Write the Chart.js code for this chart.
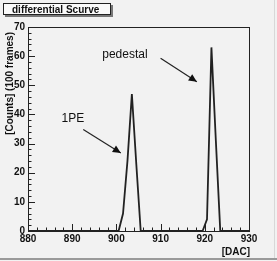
<!DOCTYPE html>
<html>
<head>
<meta charset="utf-8">
<script src="https://cdn.jsdelivr.net/npm/chart.js@4"></script>
<style>
  html, body { margin: 0; padding: 0; background: #f2f2f2; }
  #wrap { width: 277px; height: 261px; position: relative; }
</style>
</head>
<body>
<div id="wrap"><canvas id="scurve" width="277" height="261"></canvas></div>
<script>
// DAC values (bin centres) and counts
const dac    = [880, 900.5, 901.5, 902.5, 903.5, 904.5, 905.5, 919.5, 920.5, 921.5, 922.5, 923.5, 930];
const counts = [0,   0,     6,     24,    47,    23,    0,     0,     4,     63,    31,    0,     0];

const xTicks = [880, 890, 900, 910, 920, 930];
const yTicks = [0, 10, 20, 30, 40, 50, 60, 70];

// annotation labels, placed in data units
const notes = [
  { text: '1PE',      at: [887.6, 37.5], from: [892.5, 34.8], to: [901.0, 26.8] },
  { text: 'pedestal', at: [896.8, 59.5], from: [910.0, 59.3], to: [918.2, 51.2] }
];

const points = dac.map((d, i) => ({ x: d, y: counts[i] }));

const rootDeco = {
  id: 'rootDeco',
  afterDraw(chart) {
    const ctx = chart.ctx;
    const xs = chart.scales.x, ys = chart.scales.y;
    const a = chart.chartArea;
    ctx.save();

    // frame
    ctx.strokeStyle = '#222';
    ctx.lineWidth = 1;
    ctx.strokeRect(Math.round(a.left) + 0.5, Math.round(a.top) + 0.5,
                   Math.round(a.right - a.left), Math.round(a.bottom - a.top));

    // ticks pointing inwards
    ctx.beginPath();
    for (let v = 880; v <= 930; v += 2) {
      const px = Math.round(xs.getPixelForValue(v)) + 0.5;
      const len = (v % 10 === 0) ? 7 : 3.5;
      ctx.moveTo(px, a.bottom);
      ctx.lineTo(px, a.bottom - len);
    }
    for (let v = 0; v <= 70; v += 2) {
      const py = Math.round(ys.getPixelForValue(v)) + 0.5;
      const len = (v % 10 === 0) ? 7 : 3.5;
      ctx.moveTo(a.left, py);
      ctx.lineTo(a.left + len, py);
    }
    ctx.stroke();

    // axis titles
    ctx.fillStyle = '#111';
    ctx.font = 'bold 10px "Liberation Sans", Arial, sans-serif';
    ctx.textAlign = 'right';
    ctx.textBaseline = 'alphabetic';
    ctx.fillText('[DAC]', a.right + 1, 255);
    ctx.save();
    ctx.translate(13, a.top + 5);
    ctx.rotate(-Math.PI / 2);
    ctx.textAlign = 'right';
    ctx.fillText('[Counts] (100 frames)', 0, 0);
    ctx.restore();

    // title box
    ctx.fillStyle = '#777';
    ctx.fillRect(5, 5, 108, 12);
    ctx.fillStyle = '#fafafa';
    ctx.fillRect(3, 3, 108, 12);
    ctx.strokeStyle = '#222';
    ctx.strokeRect(3.5, 3.5, 107, 11);
    ctx.fillStyle = '#111';
    ctx.font = 'bold 10px "Liberation Sans", Arial, sans-serif';
    ctx.textAlign = 'left';
    ctx.fillText('differential Scurve', 12, 13);

    // annotations with arrows
    ctx.font = '12px "Liberation Sans", Arial, sans-serif';
    notes.forEach(n => {
      ctx.fillStyle = '#111';
      ctx.textAlign = 'left';
      ctx.fillText(n.text, xs.getPixelForValue(n.at[0]), ys.getPixelForValue(n.at[1]));
      const x0 = xs.getPixelForValue(n.from[0]), y0 = ys.getPixelForValue(n.from[1]);
      const x1 = xs.getPixelForValue(n.to[0]),   y1 = ys.getPixelForValue(n.to[1]);
      ctx.strokeStyle = '#222';
      ctx.lineWidth = 1.2;
      ctx.beginPath();
      ctx.moveTo(x0, y0);
      ctx.lineTo(x1, y1);
      ctx.stroke();
      const ang = Math.atan2(y1 - y0, x1 - x0);
      const L = 8, W = 3.8;
      ctx.beginPath();
      ctx.moveTo(x1, y1);
      ctx.lineTo(x1 - L * Math.cos(ang) + W * Math.sin(ang), y1 - L * Math.sin(ang) - W * Math.cos(ang));
      ctx.lineTo(x1 - L * Math.cos(ang) - W * Math.sin(ang), y1 - L * Math.sin(ang) + W * Math.cos(ang));
      ctx.closePath();
      ctx.fillStyle = '#111';
      ctx.fill();
    });

    // window border
    ctx.fillStyle = '#9a9a9a';
    ctx.fillRect(0, 258, 277, 2);
    ctx.fillStyle = '#d8d8d8';
    ctx.fillRect(274, 0, 1, 258);
    ctx.restore();
  }
};

const tickFont = { family: '"Liberation Sans", Arial, sans-serif', size: 10, weight: 'bold' };

new Chart(document.getElementById('scurve'), {
  type: 'line',
  data: {
    datasets: [{
      data: points,
      borderColor: '#222',
      borderWidth: 1.8,
      pointRadius: 0,
      tension: 0,
      fill: false
    }]
  },
  options: {
    responsive: false,
    animation: false,
    layout: { padding: { top: 27, right: 28, left: 0, bottom: 0 } },
    plugins: { legend: { display: false }, tooltip: { enabled: false } },
    scales: {
      x: {
        type: 'linear',
        min: 880, max: 930,
        grid: { display: false, drawTicks: false },
        border: { display: false },
        afterBuildTicks: s => { s.ticks = xTicks.map(v => ({ value: v })); },
        afterFit: s => { s.height = 30; },
        ticks: { color: '#111', font: tickFont, padding: 2, maxRotation: 0, autoSkip: false }
      },
      y: {
        min: 0, max: 70,
        grid: { display: false, drawTicks: false },
        border: { display: false },
        afterBuildTicks: s => { s.ticks = yTicks.map(v => ({ value: v })); },
        afterFit: s => { s.width = 28; },
        ticks: { color: '#111', font: tickFont, padding: 3 }
      }
    }
  },
  plugins: [rootDeco]
});
</script>
</body>
</html>
